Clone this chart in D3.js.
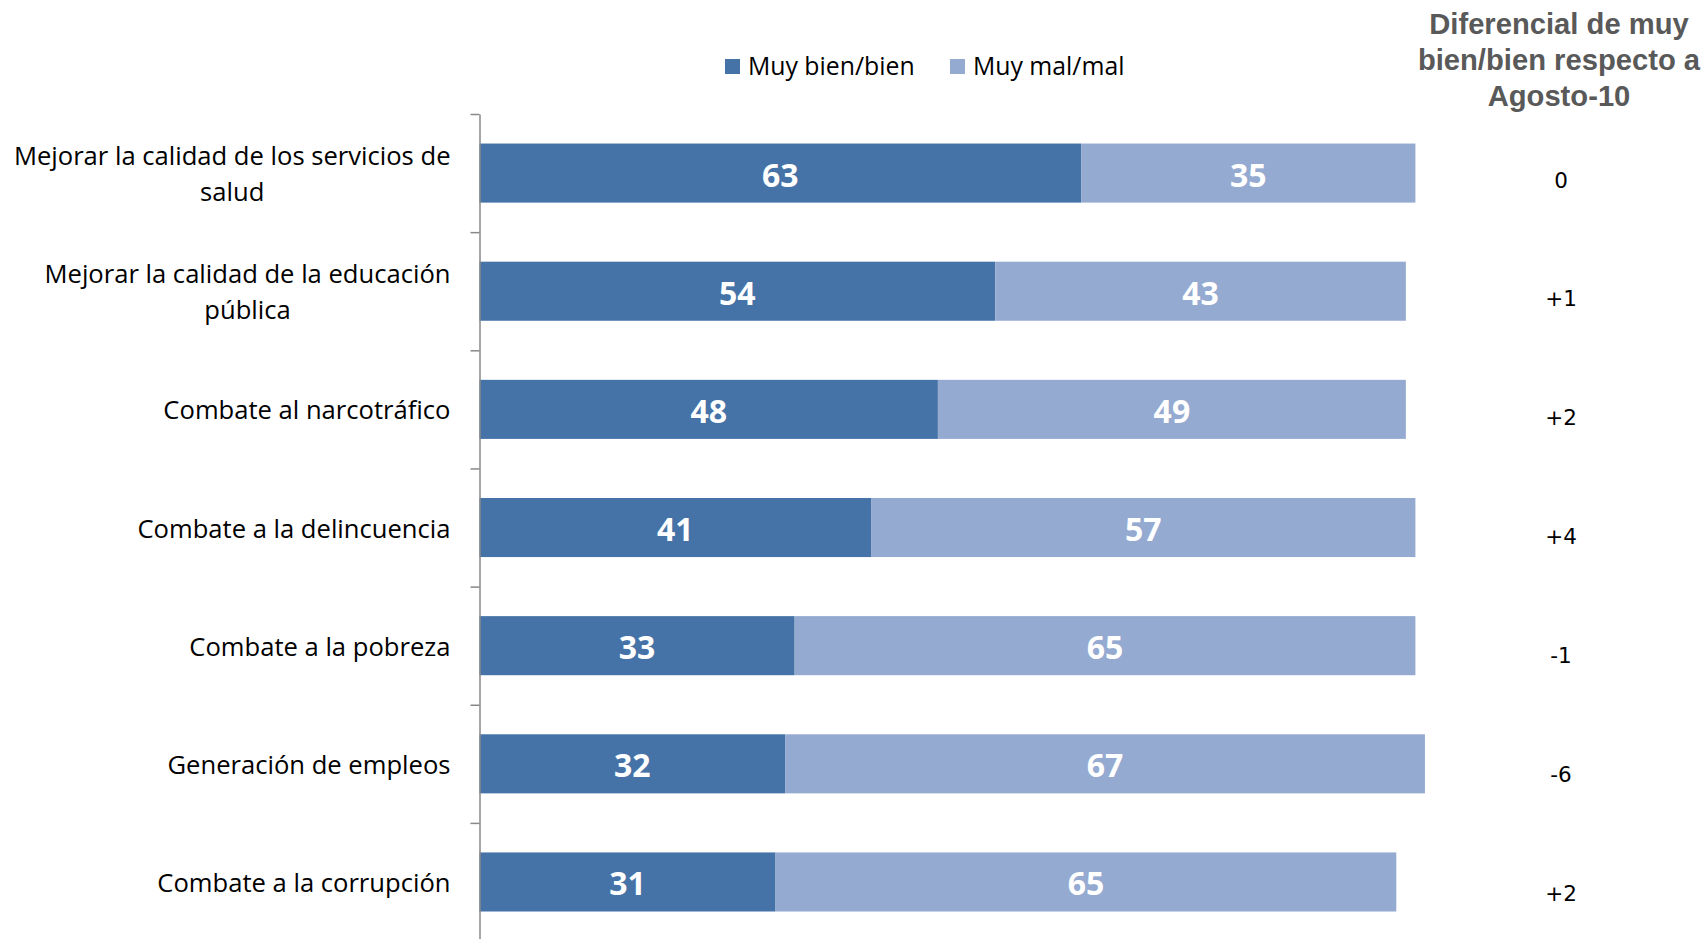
<!DOCTYPE html>
<html><head><meta charset="utf-8">
<script src="https://cdn.jsdelivr.net/npm/d3@7"></script>
<style>body{margin:0;background:#fff}svg{display:block}</style>
</head><body>
<svg id="chart" width="1702" height="939"></svg>
<script>
const categories = [
  "Mejorar la calidad de los servicios de|salud",
  "Mejorar la calidad de la educación|pública",
  "Combate al narcotráfico",
  "Combate a la delincuencia",
  "Combate a la pobreza",
  "Generación de empleos",
  "Combate a la corrupción"
];
const bienValues = [63, 54, 48, 41, 33, 32, 31];
const malValues  = [35, 43, 49, 57, 65, 67, 65];
const diffLabels = ["0", "+1", "+2", "+4", "-1", "-6", "+2"];
const seriesNames = ["Muy bien/bien", "Muy mal/mal"];
const headerLines = ["Diferencial de muy", "bien/bien respecto a", "Agosto-10"];

(function(){
const colors = ["#4573A7", "#95AAD1"];
const svg = d3.select("#chart");

const axisX = 479.5, plotTop = 114, step = 118.15;
const plotBottom = plotTop + step * categories.length;
const x = d3.scaleLinear().domain([0, 100]).range([axisX, 1434.5]);
const y = d3.scaleBand().domain(categories).range([plotTop, plotBottom]).paddingInner(0.5).paddingOuter(0.25);
const yTick = d3.scaleLinear().domain([0, categories.length]).range([plotTop, plotBottom]);

const rows = categories.map((c, i) => ({c, i, bien: bienValues[i], mal: malValues[i]}));
const g = svg.append("g");
g.selectAll("rect.bien").data(rows).join("rect").attr("class", "bien")
  .attr("x", d => x(0)).attr("y", d => y(d.c))
  .attr("width", d => x(d.bien) - x(0)).attr("height", y.bandwidth())
  .attr("fill", colors[0]);
g.selectAll("rect.mal").data(rows).join("rect").attr("class", "mal")
  .attr("x", d => x(d.bien)).attr("y", d => y(d.c))
  .attr("width", d => x(d.bien + d.mal) - x(d.bien)).attr("height", y.bandwidth())
  .attr("fill", colors[1]);

const valStyle = sel => sel.attr("text-anchor", "middle").attr("fill", "#fff")
  .style("font-family", "'Open Sans', sans-serif").style("font-weight", "700").style("font-size", "32px");
g.selectAll("text.vb").data(rows).join("text").attr("class", "vb").call(valStyle)
  .attr("x", d => (x(0) + x(d.bien)) / 2)
  .attr("y", d => y(d.c) + y.bandwidth() / 2 + 13.5)
  .text(d => d.bien);
g.selectAll("text.vm").data(rows).join("text").attr("class", "vm").call(valStyle)
  .attr("x", d => (x(d.bien) + x(d.bien + d.mal)) / 2)
  .attr("y", d => y(d.c) + y.bandwidth() / 2 + 13.5)
  .text(d => d.mal);

const axis = d3.axisLeft(yTick).tickValues(d3.range(categories.length + 1)).tickFormat("").tickSize(9).tickSizeOuter(0);
const ag = svg.append("g").attr("transform", `translate(${axisX},0)`).call(axis);
ag.selectAll("path,line").attr("stroke", "#888").attr("stroke-width", 1.5);

const labelRight = 450.5;
categories.forEach((c, i) => {
  const lines = c.split("|");
  const cy = y(c) + y.bandwidth() / 2;
  const t = svg.append("text")
    .style("font-family", "'Open Sans', sans-serif").style("font-size", "25.6px")
    .attr("fill", "#000").attr("text-anchor", "middle");
  lines.forEach((ln, k) => {
    t.append("tspan").attr("y", cy + 10 + (k - (lines.length - 1) / 2) * 36).text(ln);
  });
  let maxW = 0;
  t.selectAll("tspan").each(function(){ maxW = Math.max(maxW, this.getComputedTextLength()); });
  t.selectAll("tspan").attr("x", labelRight - maxW / 2);
});

const legendItems = [{name: seriesNames[0], sx: 725, color: colors[0]}, {name: seriesNames[1], sx: 950, color: colors[1]}];
const lg = svg.append("g");
lg.selectAll("rect").data(legendItems).join("rect")
  .attr("x", d => d.sx).attr("y", 59).attr("width", 15).attr("height", 15).attr("fill", d => d.color);
lg.selectAll("text").data(legendItems).join("text")
  .attr("x", d => d.sx + 23).attr("y", 74.5)
  .style("font-family", "'Open Sans', sans-serif").style("font-size", "24.8px").attr("fill", "#000")
  .text(d => d.name);

svg.append("g").selectAll("text").data(headerLines).join("text")
  .attr("x", 1559).attr("y", (d, i) => 34 + i * 35.8)
  .attr("text-anchor", "middle")
  .style("font-family", "'Liberation Sans', Arial, sans-serif").style("font-weight", "700").style("font-size", "29.2px")
  .attr("fill", "#595959").text(d => d);

const yDiff = d3.scalePoint().domain(categories).range([187.5, 900.5]);
svg.append("g").selectAll("text").data(rows).join("text")
  .attr("x", 1561).attr("y", d => yDiff(d.c))
  .attr("text-anchor", "middle")
  .style("font-family", "'DejaVu Sans', sans-serif").style("font-size", "21.5px").attr("fill", "#000")
  .text(d => diffLabels[d.i]);
})();
</script>
</body></html>
